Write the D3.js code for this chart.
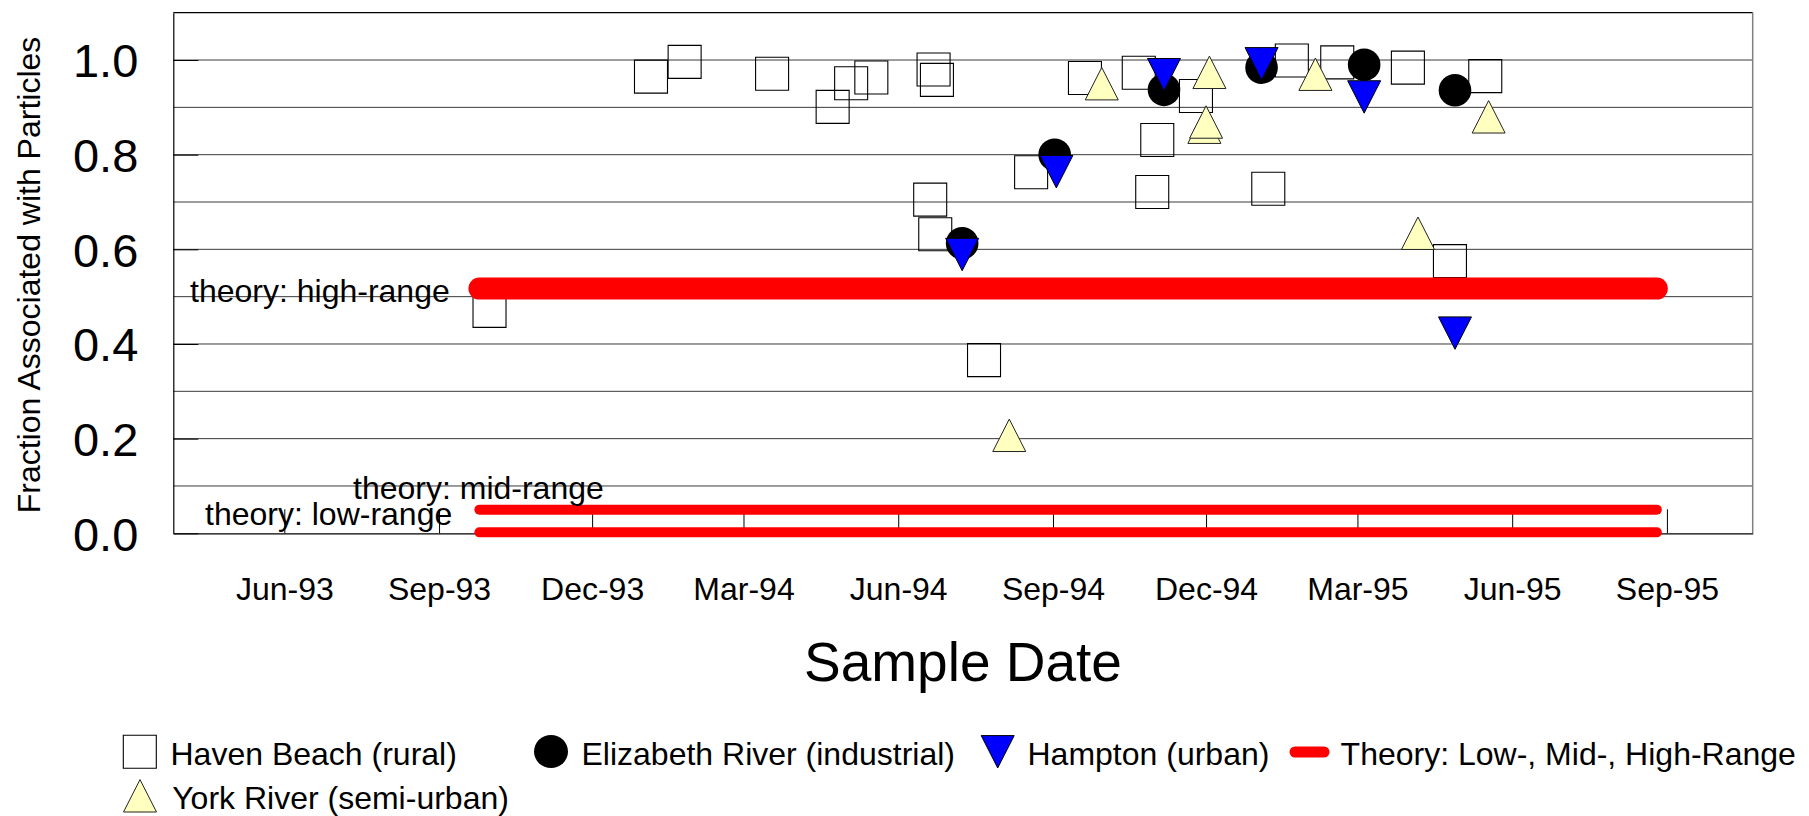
<!DOCTYPE html>
<html><head><meta charset="utf-8">
<script src="https://cdn.jsdelivr.net/npm/d3@7"></script>
<style>
html,body{margin:0;padding:0;background:#fff;}
svg{display:block;}
text{font-family:"Liberation Sans",Arial,Helvetica,sans-serif;fill:#000;}
</style></head><body>
<svg id="chart" width="1809" height="816"></svg>
<script>
// ---------------- data ----------------
const xDomain = ["1993-03-27", "1995-10-22"];
const xTickDates = ["1993-06-01","1993-09-01","1993-12-01","1994-03-01","1994-06-01","1994-09-01","1994-12-01","1995-03-01","1995-06-01","1995-09-01"];
const xTickLabels = ["Jun-93","Sep-93","Dec-93","Mar-94","Jun-94","Sep-94","Dec-94","Mar-95","Jun-95","Sep-95"];
const yTickValues = [0.0, 0.2, 0.4, 0.6, 0.8, 1.0];
const yTickLabels = ["0.0","0.2","0.4","0.6","0.8","1.0"];
const yGridValues = [0.1,0.2,0.3,0.4,0.5,0.6,0.7,0.8,0.9,1.0];

const havenDates = ["1993-10-01","1994-01-05","1994-01-25","1994-03-18","1994-04-23","1994-05-04","1994-05-16","1994-06-20","1994-06-22","1994-06-23","1994-06-24","1994-07-22","1994-08-19","1994-09-20","1994-10-22","1994-10-30","1994-11-02","1994-11-25","1995-01-07","1995-01-21","1995-02-17","1995-03-31","1995-04-25","1995-05-16"];
const havenValues = [0.47,0.965,0.996,0.971,0.901,0.951,0.963,0.705,0.98,0.632,0.958,0.366,0.763,0.962,0.973,0.721,0.831,0.924,0.728,0.999,0.995,0.984,0.575,0.966];

const elizabethDates = ["1994-07-09","1994-09-02","1994-11-06","1995-01-03","1995-03-05","1995-04-28"];
const elizabethValues = [0.613,0.80,0.937,0.984,0.99,0.936];

const hamptonDates = ["1994-07-09","1994-09-03","1994-11-06","1995-01-03","1995-03-05","1995-04-28"];
const hamptonValues = [0.589,0.764,0.969,0.992,0.922,0.423];

const yorkDates = ["1994-08-06","1994-09-30","1994-11-30","1994-12-01","1994-12-03","1995-02-04","1995-04-06","1995-05-18"];
const yorkValues = [0.207,0.95,0.858,0.869,0.974,0.97,0.634,0.88];

const theoryDates = ["1993-09-25","1995-08-26"];
const theoryLevels = [0.002, 0.05, 0.517];
const theoryLabels = ["theory: low-range","theory: mid-range","theory: high-range"];

const legendLabels = ["Haven Beach (rural)","Elizabeth River (industrial)","Hampton (urban)","Theory: Low-, Mid-, High-Range","York River (semi-urban)"];
const xTitle = "Sample Date";
const yTitle = "Fraction Associated with Particles";

// ---------------- drawing ----------------
const parse = d3.timeParse("%Y-%m-%d");
const svg = d3.select("#chart");
const L = 173.3, R = 1752.7, T = 12.7, B = 533.3;

const x = d3.scaleTime().domain(xDomain.map(parse)).range([L, R]);
const y = d3.scaleLinear().domain([0, 1.1]).range([B, T]);

// gridlines
svg.append("g").selectAll("line").data(yGridValues).join("line")
  .attr("x1", L).attr("x2", R)
  .attr("y1", d => y(d)).attr("y2", d => y(d))
  .attr("stroke", "#3a3a3a").attr("stroke-width", 1);

// plot frame
svg.append("line").attr("x1", L).attr("x2", R).attr("y1", T).attr("y2", T).attr("stroke", "#000").attr("stroke-width", 1.2);
svg.append("line").attr("x1", R).attr("x2", R).attr("y1", T).attr("y2", B).attr("stroke", "#808080").attr("stroke-width", 1.5);

// x axis
const xAxis = d3.axisBottom(x)
  .tickValues(xTickDates.map(parse))
  .tickFormat((d, i) => xTickLabels[i])
  .tickSizeInner(-24).tickSizeOuter(0).tickPadding(44);
const gx = svg.append("g").attr("transform", `translate(0,${B})`).call(xAxis);
gx.select(".domain").attr("stroke", "#000").attr("stroke-width", 1.2);
gx.selectAll(".tick line").attr("stroke", "#000");
gx.selectAll(".tick text").attr("font-size", 32).attr("font-family", '"Liberation Sans",Arial,sans-serif');

// y axis
const yAxis = d3.axisLeft(y)
  .tickValues(yTickValues)
  .tickFormat((d, i) => yTickLabels[i])
  .tickSizeInner(-25).tickSizeOuter(0).tickPadding(35);
const gy = svg.append("g").attr("transform", `translate(${L},0)`).call(yAxis);
gy.select(".domain").attr("stroke", "#000").attr("stroke-width", 1.2);
gy.selectAll(".tick line").attr("stroke", "#000");
gy.selectAll(".tick text").attr("font-size", 47).attr("dy", "0.36em").attr("font-family", '"Liberation Sans",Arial,sans-serif');

// axis titles
svg.append("text").attr("x", (L + R) / 2).attr("y", 681).attr("text-anchor", "middle")
  .attr("font-size", 55).text(xTitle);
svg.append("text").attr("transform", `translate(40,${(T + B) / 2 + 2}) rotate(-90)`).attr("text-anchor", "middle")
  .attr("font-size", 32).text(yTitle);

// marker helpers
const S = 33, H = 16.5;
function squarePath(cx, cy) { return `M${cx - H},${cy - H}h${S}v${S}h${-S}Z`; }
function triDown(cx, cy) { return `M${cx - H},${cy - 16.2}L${cx + H},${cy - 16.2}L${cx},${cy + 16.2}Z`; }
function triUp(cx, cy) { return `M${cx},${cy - 16.2}L${cx + H},${cy + 16.2}L${cx - H},${cy + 16.2}Z`; }

const haven = havenDates.map((d, i) => ({ d: parse(d), v: havenValues[i] }));
const eliz = elizabethDates.map((d, i) => ({ d: parse(d), v: elizabethValues[i] }));
const hamp = hamptonDates.map((d, i) => ({ d: parse(d), v: hamptonValues[i] }));
const york = yorkDates.map((d, i) => ({ d: parse(d), v: yorkValues[i] }));

svg.append("g").selectAll("path").data(haven).join("path")
  .attr("d", p => squarePath(x(p.d), y(p.v)))
  .attr("fill", "none").attr("stroke", "#000").attr("stroke-width", 1.1);

svg.append("g").selectAll("circle").data(eliz).join("circle")
  .attr("cx", p => x(p.d)).attr("cy", p => y(p.v)).attr("r", 16.3)
  .attr("fill", "#000");

svg.append("g").selectAll("path").data(hamp).join("path")
  .attr("d", p => triDown(x(p.d), y(p.v)))
  .attr("fill", "#0000ff").attr("stroke", "#000").attr("stroke-width", 1);

// theory lines
const tStart = parse(theoryDates[0]), tEnd = parse(theoryDates[1]);
const tWidths = [10, 10, 22];
svg.append("g").selectAll("line").data(theoryLevels).join("line")
  .attr("x1", x(tStart)).attr("x2", x(tEnd))
  .attr("y1", d => y(d)).attr("y2", d => y(d))
  .attr("stroke", "#ff0000").attr("stroke-width", (d, i) => tWidths[i])
  .attr("stroke-linecap", "round");

svg.append("g").selectAll("path").data(york).join("path")
  .attr("d", p => triUp(x(p.d), y(p.v)))
  .attr("fill", "#ffffc0").attr("stroke", "#222").attr("stroke-width", 1);

// theory annotations
svg.append("text").attr("x", 205).attr("y", y(theoryLevels[0]) - 7.5).attr("font-size", 32).text(theoryLabels[0]);
svg.append("text").attr("x", 353).attr("y", y(theoryLevels[1]) - 10.5).attr("font-size", 32).text(theoryLabels[1]);
svg.append("text").attr("x", 190).attr("y", y(theoryLevels[2]) + 13).attr("font-size", 32).text(theoryLabels[2]);

// legend
const lg = svg.append("g");
lg.append("path").attr("d", squarePath(139.8, 751.7)).attr("fill", "#fff").attr("stroke", "#000").attr("stroke-width", 1.1);
lg.append("text").attr("x", 170.5).attr("y", 765).attr("font-size", 32).text(legendLabels[0]);
lg.append("ellipse").attr("cx", 551).attr("cy", 751.5).attr("rx", 17).attr("ry", 16.5).attr("fill", "#000");
lg.append("text").attr("x", 581.5).attr("y", 765).attr("font-size", 32).text(legendLabels[1]);
lg.append("path").attr("d", triDown(997.7, 751.8)).attr("fill", "#0000ff").attr("stroke", "#000").attr("stroke-width", 1);
lg.append("text").attr("x", 1027.5).attr("y", 765).attr("font-size", 32).text(legendLabels[2]);
lg.append("line").attr("x1", 1295).attr("x2", 1324).attr("y1", 752).attr("y2", 752)
  .attr("stroke", "#ff0000").attr("stroke-width", 11).attr("stroke-linecap", "round");
lg.append("text").attr("x", 1340.6).attr("y", 765).attr("font-size", 32).text(legendLabels[3]);
lg.append("path").attr("d", triUp(140, 795.8)).attr("fill", "#ffffc0").attr("stroke", "#222").attr("stroke-width", 1);
lg.append("text").attr("x", 172.2).attr("y", 809).attr("font-size", 32).text(legendLabels[4]);
</script>
</body></html>
